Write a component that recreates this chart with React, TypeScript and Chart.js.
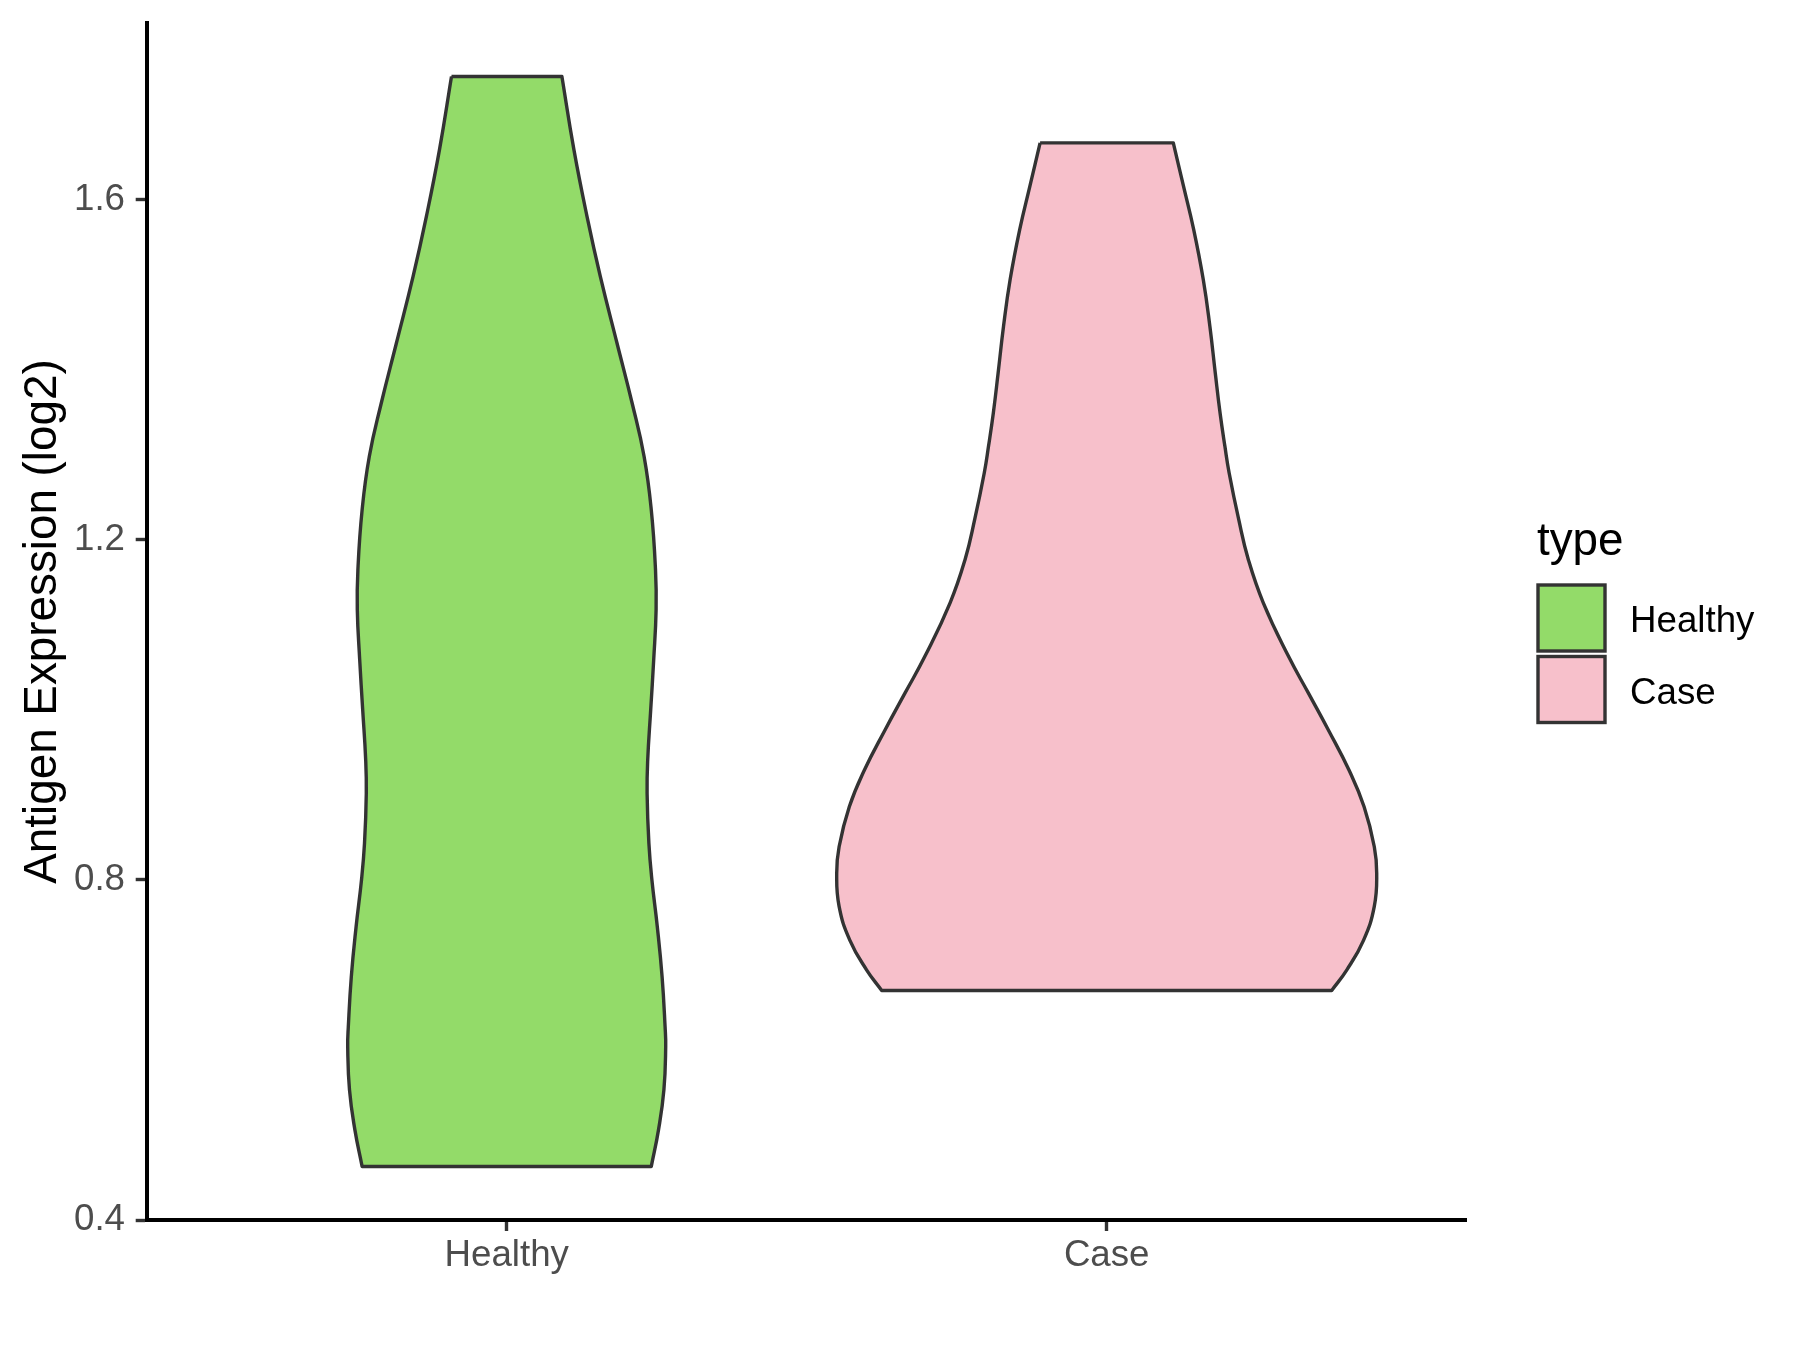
import React, { useEffect, useRef } from 'react';
import { Chart, registerables } from 'chart.js';

Chart.register(...registerables);

// ---- data ----
const CATEGORIES = ['Healthy', 'Case'];
const Y_TICKS = [0.4, 0.8, 1.2, 1.6];
const LEGEND_TITLE = 'type';
const Y_TITLE = 'Antigen Expression (log2)';

// violin outlines: value (y) and half-width (in category units), top to bottom
const HEALTHY_Y = [1.745, 1.659, 1.58, 1.51, 1.431, 1.361, 1.298, 1.235, 1.165, 1.118, 1.059, 1.0, 0.941, 0.902, 0.843, 0.8, 0.745, 0.686, 0.627, 0.604, 0.553, 0.506, 0.463];
const HEALTHY_HW = [0.092, 0.112, 0.134, 0.156, 0.184, 0.209, 0.229, 0.241, 0.248, 0.249, 0.245, 0.24, 0.235, 0.234, 0.237, 0.242, 0.251, 0.259, 0.264, 0.265, 0.262, 0.253, 0.241];

const CASE_Y = [1.667, 1.616, 1.565, 1.506, 1.451, 1.396, 1.349, 1.31, 1.279, 1.224, 1.177, 1.126, 1.063, 1.02, 0.977, 0.929, 0.886, 0.839, 0.808, 0.769, 0.729, 0.694, 0.67];
const CASE_HW = [0.111, 0.128, 0.145, 0.161, 0.172, 0.181, 0.189, 0.197, 0.204, 0.22, 0.236, 0.261, 0.303, 0.336, 0.369, 0.404, 0.429, 0.446, 0.45, 0.446, 0.428, 0.4, 0.375];

const FILL_COLORS = ['#93DB69', '#F7C0CB'];
const OUTLINE = '#333333';
const FONT = '"Liberation Sans", Arial, Helvetica, sans-serif';

function violinOutline(pos: number, ys: number[], hws: number[]) {
  const left = ys.map((y, i) => ({ x: pos - hws[i], y }));
  const right = ys.map((y, i) => ({ x: pos + hws[i], y })).reverse();
  const tl = left[0];
  const bl = left[left.length - 1];
  const br = right[0];
  const tr = right[right.length - 1];
  return [...left, bl, br, ...right, tr, tl];
}

const legendPlugin = {
  id: 'ggLegend',
  afterDraw(chart: any) {
    const ctx = chart.ctx;
    ctx.save();
    ctx.textAlign = 'left';
    ctx.fillStyle = '#000000';
    ctx.textBaseline = 'alphabetic';
    ctx.font = `45.8px ${FONT}`;
    ctx.fillText(LEGEND_TITLE, 1537, 555);
    chart.data.datasets.forEach((ds: any, i: number) => {
      const y0 = 585 + i * 71.5;
      ctx.fillStyle = ds.backgroundColor;
      ctx.fillRect(1538, y0, 67, 66);
      ctx.strokeStyle = OUTLINE;
      ctx.lineWidth = 3.4;
      ctx.strokeRect(1538, y0, 67, 66);
      ctx.fillStyle = '#000000';
      ctx.font = `36.7px ${FONT}`;
      ctx.textBaseline = 'middle';
      ctx.fillText(ds.label, 1630, y0 + 37);
    });
    ctx.restore();
  },
};

export default function App() {
  const ref = useRef<HTMLCanvasElement | null>(null);

  useEffect(() => {
    if (!ref.current) return;
    const series = [
      { ys: HEALTHY_Y, hws: HEALTHY_HW },
      { ys: CASE_Y, hws: CASE_HW },
    ];
    const chart = new Chart(ref.current, {
      type: 'scatter',
      data: {
        datasets: CATEGORIES.map((c, i) => ({
          label: c,
          data: violinOutline(i + 1, series[i].ys, series[i].hws),
          showLine: true,
          fill: 'shape',
          backgroundColor: FILL_COLORS[i],
          borderColor: OUTLINE,
          borderWidth: 3.4,
          borderJoinStyle: 'round',
          pointRadius: 0,
          pointHoverRadius: 0,
          tension: 0.45,
        })),
      },
      options: {
        responsive: false,
        animation: false,
        events: [],
        layout: { padding: { left: 0, top: 23, right: 333.3, bottom: 0 } },
        plugins: {
          legend: { display: false },
          tooltip: { enabled: false },
          title: { display: false },
        },
        scales: {
          x: {
            type: 'linear',
            min: 0.4,
            max: 2.6,
            afterFit: (s: any) => {
              s.height = 130;
              s.paddingLeft = 0;
              s.paddingRight = 0;
            },
            afterBuildTicks: (s: any) => { s.ticks = CATEGORIES.map((_, i) => ({ value: i + 1 })); },
            ticks: {
              callback: (v: any) => CATEGORIES[Math.round(Number(v)) - 1] ?? '',
              color: '#4D4D4D',
              font: { family: FONT, size: 36.7 },
              padding: 3,
              maxRotation: 0,
            },
            grid: {
              drawOnChartArea: false,
              drawTicks: true,
              tickLength: 11,
              tickColor: '#333333',
              tickWidth: 3.4,
            },
            border: { display: true, color: '#000000', width: 4 },
          },
          y: {
            type: 'linear',
            min: 0.4,
            max: 1.808,
            afterFit: (s: any) => {
              s.width = 146.7;
              s.paddingTop = 0;
              s.paddingBottom = 0;
            },
            afterBuildTicks: (s: any) => { s.ticks = Y_TICKS.map((v) => ({ value: v })); },
            ticks: {
              callback: (v: any) => Number(v).toFixed(1),
              color: '#4D4D4D',
              font: { family: FONT, size: 36.7 },
              padding: 10.7,
            },
            grid: {
              drawOnChartArea: false,
              drawTicks: true,
              tickLength: 11,
              tickColor: '#333333',
              tickWidth: 3.4,
            },
            border: { display: true, color: '#000000', width: 4 },
            title: {
              display: true,
              text: Y_TITLE,
              color: '#000000',
              font: { family: FONT, size: 45.8 },
              padding: { top: 15.5, bottom: 0 },
            },
          },
        },
      },
      plugins: [legendPlugin],
    } as any);
    return () => chart.destroy();
  }, []);

  return (
    <div style={{ position: 'absolute', left: 0, top: 0, width: 1800, height: 1350, background: '#ffffff' }}>
      <canvas ref={ref} width={1800} height={1350} style={{ display: 'block', width: 1800, height: 1350 }} />
    </div>
  );
}
